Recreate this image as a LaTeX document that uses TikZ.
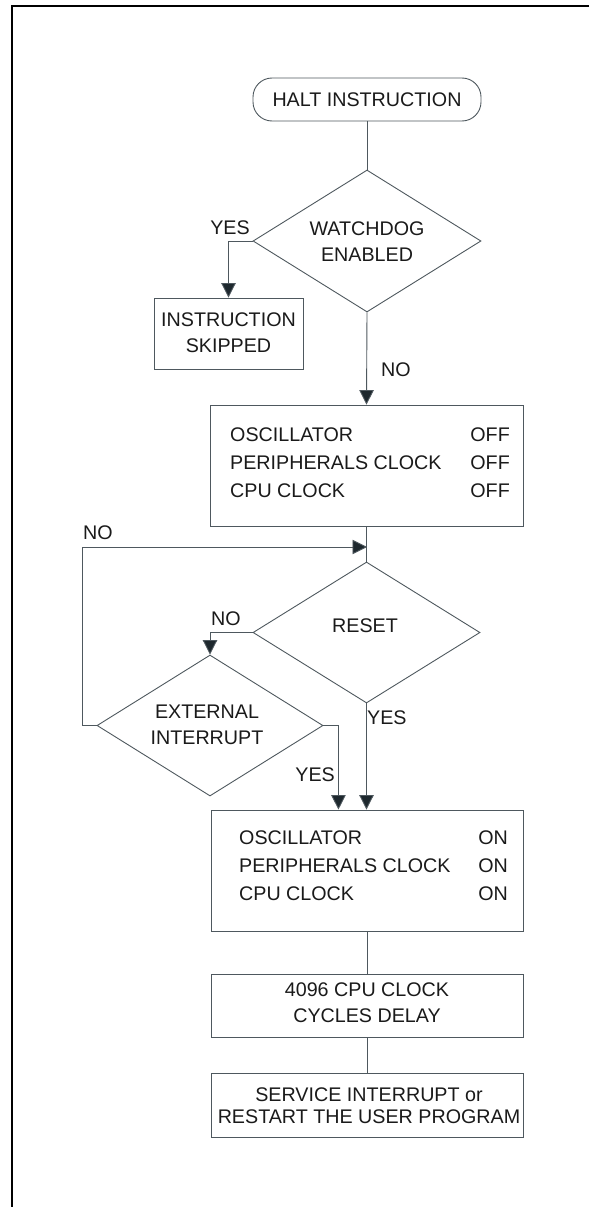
\documentclass[tikz,border=0pt]{standalone}
\usepackage{fontspec}
\setmainfont{Liberation Sans}
\usetikzlibrary{shapes.geometric,arrows.meta}
\definecolor{linecol}{RGB}{78,88,94}
\definecolor{tipcol}{RGB}{30,40,46}
\definecolor{txtcol}{RGB}{26,26,26}
\tikzset{
  every node/.style={font=\fontsize{19.7}{23}\selectfont, text=txtcol},
  flow/.style={draw=linecol, line width=0.9pt},
  arr/.style={flow, -{Triangle[width=14.5pt,length=14.5pt,fill=tipcol]}},
  box/.style={draw=linecol, line width=0.9pt, rectangle, inner sep=0pt},
  term/.style={box, rounded corners=19pt},
  decision/.style={draw=linecol, line width=0.9pt, diamond, inner sep=0pt},
  lbl/.style={inner sep=0pt, align=center},
}
\begin{document}
\begin{tikzpicture}[x=1pt,y=-1pt]
\useasboundingbox (0,0) rectangle (589,1207);
% outer frame
\draw[line width=2pt, black] (589,6) -- (11.7,6) -- (11.7,1207);

% shapes
\node[term, minimum width=228pt, minimum height=43pt] (halt) at (367,99.5) {};
\node[lbl] (haltt) at (halt) {HALT INSTRUCTION};

\node[decision, minimum width=228pt, minimum height=142pt] (wd) at (367,241) {};
\node[lbl] (wdt) at (367,242) {WATCHDOG\\[3pt]ENABLED};

\node[box, minimum width=149pt, minimum height=71pt] (skip) at (228.5,333.5) {};
\node[lbl] (skipt) at (228.5,333) {INSTRUCTION\\[3pt]SKIPPED};

\node[box, minimum width=313pt, minimum height=121pt] (off) at (366.5,465.5) {};
\node[lbl, anchor=west] (off1) at (230,435) {OSCILLATOR};
\node[lbl, anchor=west] (off2) at (230,463) {PERIPHERALS CLOCK};
\node[lbl, anchor=west] (off3) at (230,491) {CPU CLOCK};
\node[lbl, anchor=east] (off1v) at (510,435) {OFF};
\node[lbl, anchor=east] (off2v) at (510,463) {OFF};
\node[lbl, anchor=east] (off3v) at (510,491) {OFF};

\coordinate (merge) at (367,547);

\node[decision, minimum width=227pt, minimum height=141pt] (reset) at (366.5,632.5) {};
\node[lbl] (resett) at (365,626) {RESET};

\node[decision, minimum width=226pt, minimum height=141pt] (ext) at (210,725.5) {};
\node[lbl] (extt) at (207,725) {EXTERNAL\\[3pt]INTERRUPT};

\node[box, minimum width=312pt, minimum height=121pt] (on) at (367,870.5) {};
\node[lbl, anchor=west] (on1) at (239,838) {OSCILLATOR};
\node[lbl, anchor=west] (on2) at (239,866) {PERIPHERALS CLOCK};
\node[lbl, anchor=west] (on3) at (239,894) {CPU CLOCK};
\node[lbl, anchor=east] (on1v) at (508,838) {ON};
\node[lbl, anchor=east] (on2v) at (508,866) {ON};
\node[lbl, anchor=east] (on3v) at (508,894) {ON};

\node[box, minimum width=312pt, minimum height=63pt] (delay) at (367,1005.5) {};
\node[lbl] (delayt) at (367,1003) {4096 CPU CLOCK\\[3pt]CYCLES DELAY};

\node[box, minimum width=312pt, minimum height=64pt] (serv) at (367,1105) {};
\node[lbl] (servt) at (369,1106) {SERVICE INTERRUPT or\\[-1pt]RESTART THE USER PROGRAM};

% connectors
\draw[flow] (halt.south) -- (wd.north);
\draw[arr] (wd.west) -| (skip.north);
\draw[arr] (wd.south) -- (off.north);
\draw[flow] (off.south) -- (reset.north);
\draw[arr] (ext.west) -- ++(-14,0) |- (merge);
\draw[arr] (reset.west) -| (ext.north);
\draw[arr] (ext.east) -- ++(15,0) coordinate (extturn) -- (extturn |- on.north);
\draw[arr] (reset.south) -- (reset.south |- on.north);
\draw[flow] (on.south) -- (delay.north);
\draw[flow] (delay.south) -- (serv.north);

% branch labels
\node[lbl] (yes1) at (230,228) {YES};
\node[lbl, anchor=west] (no1) at (381,370) {NO};
\node[lbl, anchor=west] (no2) at (83,533) {NO};
\node[lbl] (no3) at (226,619) {NO};
\node[lbl, anchor=east] (yes2) at (335,775) {YES};
\node[lbl, anchor=west] (yes3) at (367,718) {YES};
\end{tikzpicture}
\end{document}
